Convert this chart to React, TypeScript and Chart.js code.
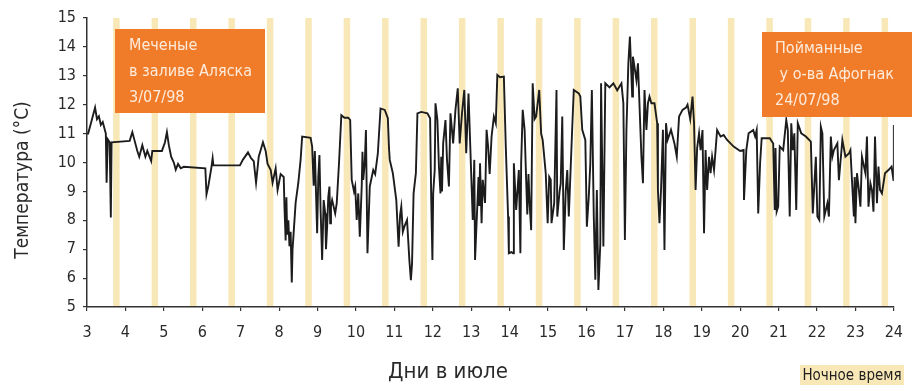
import React, { useEffect, useRef } from "react";
import { Chart, registerables } from "chart.js";

Chart.register(...registerables);

// Day-of-July timestamps (fractional days) of the logged temperature readings
const TIME_DAYS = [
  3.00, 3.03, 3.13, 3.21, 3.26, 3.31, 3.36, 3.41, 3.49, 3.51,
  3.54, 3.59, 3.62, 3.64, 4.11, 4.18, 4.23, 4.31, 4.36, 4.44,
  4.52, 4.57, 4.67, 4.70, 4.95, 5.03, 5.08, 5.13, 5.19, 5.26,
  5.31, 5.37, 5.44, 5.52, 6.08, 6.11, 6.16, 6.24, 6.27, 6.29,
  6.98, 7.06, 7.19, 7.27, 7.34, 7.40, 7.47, 7.58, 7.65, 7.70,
  7.78, 7.83, 7.91, 7.96, 8.04, 8.12, 8.14, 8.17, 8.19, 8.21,
  8.24, 8.27, 8.30, 8.33, 8.35, 8.38, 8.43, 8.50, 8.56, 8.60,
  8.82, 8.86, 8.90, 8.93, 8.99, 9.02, 9.05, 9.08, 9.12, 9.16,
  9.20, 9.25, 9.28, 9.31, 9.35, 9.38, 9.46, 9.50, 9.56, 9.62,
  9.70, 9.80, 9.85, 9.89, 9.95, 9.98, 10.02, 10.06, 10.10, 10.15,
  10.17, 10.19, 10.23, 10.26, 10.30, 10.36, 10.45, 10.50, 10.57, 10.64,
  10.75, 10.83, 10.86, 10.88, 10.96, 11.05, 11.11, 11.15, 11.18, 11.22,
  11.26, 11.33, 11.39, 11.43, 11.46, 11.50, 11.56, 11.60, 11.70, 11.86,
  11.93, 11.96, 11.99, 12.01, 12.05, 12.07, 12.12, 12.16, 12.20, 12.27,
  12.33, 12.37, 12.42, 12.46, 12.53, 12.59, 12.65, 12.70, 12.76, 12.82,
  12.87, 12.93, 12.97, 13.04, 13.08, 13.10, 13.19, 13.23, 13.27, 13.30,
  13.36, 13.40, 13.44, 13.48, 13.53, 13.59, 13.64, 13.68, 13.75, 13.85,
  13.90, 13.96, 13.98, 14.05, 14.09, 14.11, 14.17, 14.24, 14.28, 14.30,
  14.34, 14.39, 14.43, 14.52, 14.56, 14.60, 14.65, 14.69, 14.77, 14.82,
  14.86, 14.94, 14.99, 15.03, 15.07, 15.12, 15.16, 15.22, 15.24, 15.30,
  15.33, 15.37, 15.41, 15.46, 15.50, 15.54, 15.63, 15.67, 15.80, 15.84,
  15.89, 15.97, 16.01, 16.06, 16.10, 16.14, 16.19, 16.23, 16.27, 16.31,
  16.36, 16.38, 16.44, 16.49, 16.60, 16.70, 16.80, 16.91, 16.96, 17.00,
  17.04, 17.09, 17.13, 17.19, 17.21, 17.30, 17.34, 17.43, 17.47, 17.51,
  17.56, 17.60, 17.64, 17.69, 17.77, 17.84, 17.86, 17.90, 17.94, 17.99,
  18.03, 18.07, 18.11, 18.20, 18.29, 18.35, 18.41, 18.50, 18.59, 18.63,
  18.70, 18.76, 18.80, 18.84, 18.88, 18.93, 18.97, 19.02, 19.06, 19.10,
  19.14, 19.19, 19.23, 19.27, 19.32, 19.40, 19.49, 19.57, 19.66, 19.83,
  20.00, 20.09, 20.10, 20.16, 20.22, 20.34, 20.39, 20.43, 20.47, 20.52,
  20.56, 20.77, 20.86, 20.90, 20.99, 21.03, 21.12, 21.20, 21.24, 21.29,
  21.33, 21.37, 21.41, 21.46, 21.50, 21.59, 21.71, 21.84, 21.89, 21.97,
  22.01, 22.06, 22.10, 22.14, 22.19, 22.27, 22.31, 22.36, 22.40, 22.44,
  22.53, 22.57, 22.66, 22.74, 22.83, 22.87, 22.91, 22.96, 23.00, 23.04,
  23.09, 23.13, 23.17, 23.26, 23.30, 23.34, 23.39, 23.43, 23.51, 23.56,
  23.60, 23.64, 23.69, 23.77, 23.86, 23.94, 23.99, 24.00,
  // additional readings inside the dense stretches (sorted in on use)
  9.22, 9.33, 12.22, 12.24, 13.21, 14.46, 14.49, 15.09, 20.92, 20.95,
  22.98, 23.47,
];

// Temperature (°C) at each timestamp above
const TEMPERATURES = [
  11.0, 11.0, 11.5, 11.9, 11.5, 11.6, 11.3, 11.4, 11.0, 9.3,
  10.8, 10.7, 8.1, 10.7, 10.75, 11.05, 10.8, 10.4, 10.2, 10.6,
  10.2, 10.4, 10.05, 10.4, 10.4, 10.7, 11.05, 10.6, 10.2, 10.0,
  9.75, 9.95, 9.8, 9.85, 9.8, 8.9, 9.2, 9.85, 10.15, 9.9,
  9.9, 10.1, 10.35, 10.15, 10.05, 9.3, 10.2, 10.7, 10.4, 9.95,
  9.75, 9.3, 9.8, 9.05, 9.6, 9.5, 8.45, 7.3, 8.8, 7.5,
  8.0, 7.1, 7.6, 5.85, 7.0, 7.6, 8.6, 9.3, 10.1, 10.9,
  10.85, 10.55, 9.2, 10.4, 7.55, 9.5, 10.26, 8.36, 6.63, 8.7,
  8.24, 7.78, 8.8, 9.17, 8.5, 8.7, 8.24, 8.59, 10.0, 11.64,
  11.55, 11.55, 11.47, 9.4, 9.0, 9.17, 8.01, 8.93, 7.43, 9.17,
  10.37, 9.4, 10.0, 11.12, 6.86, 9.17, 9.74, 9.6, 10.32, 11.87,
  11.82, 11.53, 10.5, 10.09, 9.63, 8.7, 7.09, 8.2, 8.47, 7.6,
  7.78, 8.01, 6.63, 5.93, 6.5, 8.93, 9.63, 11.7, 11.75, 11.7,
  11.53, 8.7, 6.63, 8.93, 9.74, 12.05, 11.47, 9.86, 8.93, 10.66,
  11.47, 10.09, 9.17, 11.7, 10.66, 11.82, 12.57, 10.66, 11.7, 12.51,
  10.32, 12.39, 10.78, 8.01, 10.09, 6.63, 9.5, 9.97, 7.9, 9.4,
  8.6, 11.13, 10.55, 9.6, 10.9, 11.59, 11.36, 13.03, 12.95, 12.97,
  10.55, 8.13, 6.86, 6.9, 6.86, 9.97, 8.36, 9.74, 6.86, 9.97,
  11.82, 11.13, 9.4, 8.59, 7.66, 12.74, 11.5, 11.59, 12.51, 11.0,
  10.78, 9.63, 7.9, 9.5, 9.4, 8.2, 8.59, 12.51, 8.13, 9.0,
  9.28, 11.59, 6.97, 9.0, 9.74, 8.13, 11.24, 12.51, 12.39, 12.28,
  11.13, 10.78, 7.78, 8.82, 9.97, 12.51, 8.13, 5.94, 9.05, 5.59,
  7.2, 12.74, 7.09, 12.74, 12.6, 12.74, 12.5, 12.74, 12.05, 7.32,
  11.13, 13.43, 14.36, 12.28, 13.66, 12.85, 13.43, 10.2, 9.28, 12.51,
  11.13, 12.05, 12.28, 12.05, 12.05, 11.36, 9.05, 7.9, 9.05, 11.13,
  6.97, 11.36, 10.78, 11.13, 10.66, 10.2, 11.59, 11.82, 11.9, 12.0,
  11.5, 12.28, 11.36, 9.05, 10.5, 11.01, 10.43, 11.12, 7.55, 10.43,
  9.05, 10.2, 9.63, 10.2, 9.74, 11.12, 10.9, 10.95, 10.78, 10.55,
  10.4, 10.43, 8.7, 10.43, 11.01, 11.12, 10.9, 11.12, 8.24, 10.0,
  10.84, 10.84, 10.66, 8.36, 8.47, 10.55, 10.43, 11.47, 11.12, 8.13,
  11.36, 10.43, 11.01, 8.36, 11.36, 11.01, 10.9, 10.72, 8.24, 10.2,
  8.13, 8.01, 11.24, 11.01, 8.13, 8.59, 8.13, 10.9, 10.2, 10.43,
  10.66, 9.39, 10.78, 10.2, 10.31, 10.43, 9.39, 8.13, 7.9, 9.63,
  9.05, 8.47, 10.2, 9.63, 10.9, 8.47, 9.28, 9.05, 10.9, 8.59,
  9.86, 9.05, 8.93, 9.63, 9.74, 9.86, 9.39, 11.3,
  // additional readings
  7.0, 7.9, 10.2, 9.0, 8.5, 8.2, 9.6, 7.9, 10.5, 8.3,
  9.5, 8.3,
];

// Night-time bands: each night starts/ends at these fractions of the day
const NIGHT_DAYS = [3, 4, 5, 6, 7, 8, 9, 10, 11, 12, 13, 14, 15, 16, 17, 18, 19, 20, 21, 22, 23];
const NIGHT_START_FRACTION = 0.68;
const NIGHT_END_FRACTION = 0.85;

const X_MIN = 3;
const X_MAX = 24;
const Y_MIN = 5;
const Y_MAX = 15;

const LABEL_TAGGED = ["Меченые", "в заливе Аляска", "3/07/98"];
const LABEL_CAUGHT = ["Пойманные", " у о-ва Афогнак", "24/07/98"];
const X_TITLE = "Дни в июле";
const Y_TITLE = "Температура (°C)";
const NIGHT_LABEL = "Ночное время";

const NARROW = "'Liberation Sans Narrow', 'DejaVu Sans Condensed', 'Arial Narrow', sans-serif";

const NIGHT_COLOR = "#F8E8B8";
const ORANGE = "#F07C2A";
const BOX_TEXT = "#FDEBDC";

const nightPlugin = {
  id: "nightBands",
  beforeDatasetsDraw(chart: any) {
    const { ctx, chartArea, scales } = chart;
    const xs = scales.x;
    ctx.save();
    ctx.fillStyle = NIGHT_COLOR;
    NIGHT_DAYS.forEach((d) => {
      const x0 = xs.getPixelForValue(d + NIGHT_START_FRACTION);
      const x1 = xs.getPixelForValue(d + NIGHT_END_FRACTION);
      ctx.fillRect(x0, chartArea.top, x1 - x0, chartArea.bottom - chartArea.top - 1);
    });
    ctx.restore();
  },
};

const overlayPlugin = {
  id: "overlays",
  afterDraw(chart: any) {
    const { ctx } = chart;
    ctx.save();
    const drawBox = (x: number, y: number, w: number, h: number, lines: string[], tx: number, ty: number[]) => {
      ctx.fillStyle = ORANGE;
      ctx.fillRect(x, y, w, h);
      ctx.fillStyle = BOX_TEXT;
      ctx.font = `16px ${NARROW}`;
      ctx.textAlign = "left";
      ctx.textBaseline = "middle";
      lines.forEach((l, i) => ctx.fillText(l, tx, ty[i]));
    };
    drawBox(115, 29, 150, 84, LABEL_TAGGED, 129, [46, 72, 98]);
    drawBox(762, 32, 150, 85, LABEL_CAUGHT, 775, [49, 75, 101]);

    ctx.fillStyle = "#2a2a2a";
    ctx.font = `22px ${NARROW}`;
    ctx.textAlign = "center";
    ctx.textBaseline = "middle";
    ctx.fillText(X_TITLE, 448, 372);

    ctx.save();
    ctx.translate(23, 180);
    ctx.rotate(-Math.PI / 2);
    ctx.font = `19px ${NARROW}`;
    ctx.fillText(Y_TITLE, 0, 0);
    ctx.restore();

    ctx.fillStyle = NIGHT_COLOR;
    ctx.fillRect(800, 365, 104, 20);
    ctx.fillStyle = "#1e1e1e";
    ctx.font = `15px ${NARROW}`;
    ctx.textAlign = "center";
    ctx.fillText(NIGHT_LABEL, 852, 376);
    ctx.restore();
  },
};

export default function App() {
  const ref = useRef<HTMLCanvasElement>(null);
  useEffect(() => {
    if (!ref.current) return;
    const points = TIME_DAYS.map((d, i) => ({ x: d, y: TEMPERATURES[i] })).sort((a, b) => a.x - b.x);
    const chart = new Chart(ref.current, {
      type: "line",
      data: {
        datasets: [
          {
            data: points,
            borderColor: "#1c1c1c",
            borderWidth: 1.9,
            pointRadius: 0,
            tension: 0,
            fill: false,
          },
        ],
      },
      options: {
        animation: false,
        responsive: false,
        maintainAspectRatio: false,
        devicePixelRatio: 1,
        parsing: false,
        layout: { padding: { top: 18, right: 11, left: 0, bottom: 0 } },
        plugins: { legend: { display: false }, tooltip: { enabled: false } },
        scales: {
          x: {
            type: "linear",
            min: X_MIN,
            max: X_MAX,
            afterFit: (s: any) => {
              s.height = 78;
            },
            ticks: {
              stepSize: 1,
              color: "#2a2a2a",
              padding: 12,
              font: { family: NARROW, size: 16 },
              maxRotation: 0,
              autoSkip: false,
            },
            grid: { display: true, drawOnChartArea: false, drawTicks: true, tickLength: 4, color: "#333", lineWidth: 1.2 },
            border: { display: true, color: "#333", width: 1.5 },
          },
          y: {
            type: "linear",
            min: Y_MIN,
            max: Y_MAX,
            afterFit: (s: any) => {
              s.width = 87;
            },
            ticks: {
              stepSize: 1,
              color: "#2a2a2a",
              padding: 7,
              font: { family: NARROW, size: 16 },
            },
            grid: { display: true, drawOnChartArea: false, drawTicks: true, tickLength: 4, color: "#333", lineWidth: 1.2 },
            border: { display: true, color: "#333", width: 1.5 },
          },
        },
      },
      plugins: [nightPlugin, overlayPlugin],
    });
    return () => chart.destroy();
  }, []);
  return (
    <div style={{ position: "absolute", left: 0, top: 0, width: 915, height: 385, background: "#fff" }}>
      <canvas ref={ref} width={915} height={385} style={{ display: "block" }} />
    </div>
  );
}
